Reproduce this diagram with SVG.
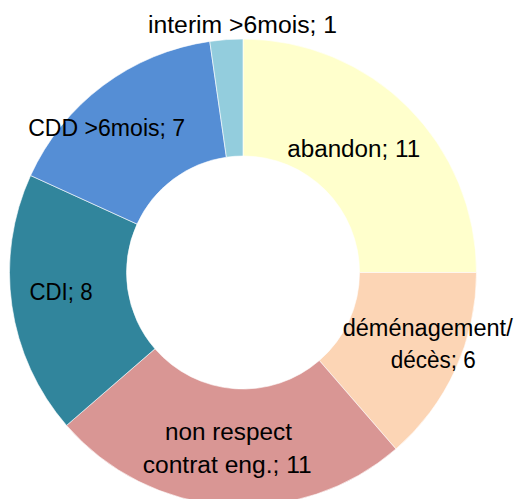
<svg xmlns="http://www.w3.org/2000/svg" width="526" height="499" viewBox="0 0 526 499">
<style>
.s{stroke:#ffffff;stroke-width:0.6}
text{font-family:"Liberation Sans","DejaVu Sans",sans-serif;font-size:23.5px;fill:#000000;text-anchor:middle}
</style>
<rect width="526" height="499" fill="#ffffff"/>
<g id="connectors"></g>
<g id="abandon">
<path class="s" fill="#FFFFCC" d="M243,39 A233.5,233.5 0 0 1 476.5,272.5 L359.5,272.5 A116.5,116.5 0 0 0 243,156 Z"/>
<text x="353.7" y="156.5" textLength="133" lengthAdjust="spacingAndGlyphs">abandon; 11</text>
</g>
<g id="demenagement">
<path class="s" fill="#FCD5B5" d="M476.5,272.5 A233.5,233.5 0 0 1 395.92,448.96 L319.30,360.54 A116.5,116.5 0 0 0 359.5,272.5 Z"/>
<text x="427.7" y="336" textLength="170" lengthAdjust="spacingAndGlyphs">déménagement/</text>
<text x="433.3" y="368" textLength="85" lengthAdjust="spacingAndGlyphs">décès; 6</text>
</g>
<g id="nonrespect">
<path class="s" fill="#D99694" d="M395.92,448.96 A233.5,233.5 0 0 1 66.54,425.42 L154.96,348.80 A116.5,116.5 0 0 0 319.30,360.54 Z"/>
<text x="228.4" y="440" textLength="127" lengthAdjust="spacingAndGlyphs">non respect</text>
<text x="227.2" y="472.5" textLength="169" lengthAdjust="spacingAndGlyphs">contrat eng.; 11</text>
</g>
<g id="cdi">
<path class="s" fill="#31859C" d="M66.54,425.42 A233.5,233.5 0 0 1 30.60,175.50 L137.03,224.10 A116.5,116.5 0 0 0 154.96,348.80 Z"/>
<text x="61" y="299.5" textLength="63" lengthAdjust="spacingAndGlyphs">CDI; 8</text>
</g>
<g id="cdd">
<path class="s" fill="#558ED5" d="M30.60,175.50 A233.5,233.5 0 0 1 209.77,41.38 L226.42,157.19 A116.5,116.5 0 0 0 137.03,224.10 Z"/>
<text x="106.7" y="136" textLength="157" lengthAdjust="spacingAndGlyphs">CDD &gt;6mois; 7</text>
</g>
<g id="interim">
<path class="s" fill="#93CDDD" d="M209.77,41.38 A233.5,233.5 0 0 1 243,39 L243,156 A116.5,116.5 0 0 0 226.42,157.19 Z"/>
<text x="242.5" y="33" textLength="189" lengthAdjust="spacingAndGlyphs">interim &gt;6mois; 1</text>
</g>
</svg>
